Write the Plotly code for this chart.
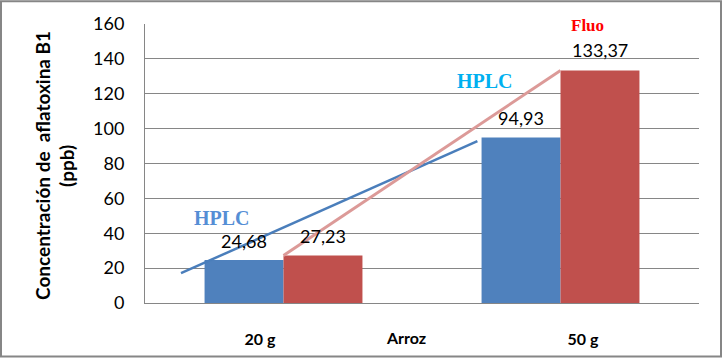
import plotly.graph_objects as go

categories = ["20 g", "50 g"]
hplc_values = [24.68, 94.93]
fluo_values = [27.23, 133.37]
hplc_labels = ["24,68", "94,93"]
fluo_labels = ["27,23", "133,37"]
y_ticks = [0, 20, 40, 60, 80, 100, 120, 140, 160]
# hand-drawn trend line endpoints (data units)
hplc_trend_x = [-0.37, 0.70]
hplc_trend_y = [17.1, 92.8]
fluo_trend_x = [0.0, 1.0]
fluo_trend_y = fluo_values

L, R, T, B = 145, 23, 24, 55
W, H = 722, 360
pw, ph = W - L - R, H - T - B

idx = list(range(len(categories)))
bw = 0.285
font = "Lato, 'Open Sans', sans-serif"

fig = go.Figure()
fig.add_trace(go.Bar(x=idx, y=hplc_values, width=bw, offset=-bw,
                     marker=dict(color="#4f81bd", line=dict(width=0)), name="HPLC"))
fig.add_trace(go.Bar(x=idx, y=fluo_values, width=bw, offset=0,
                     marker=dict(color="#c0504d", line=dict(width=0)), name="Fluo"))
fig.add_trace(go.Scatter(x=hplc_trend_x, y=hplc_trend_y, mode="lines",
                         line=dict(color="#4a7ebb", width=2.5), hoverinfo="skip"))
fig.add_trace(go.Scatter(x=fluo_trend_x, y=fluo_trend_y, mode="lines",
                         line=dict(color="#dc9a98", width=3), hoverinfo="skip"))

ann = []
for i in idx:
    ann.append(dict(x=i - bw / 2, y=hplc_values[i], text=hplc_labels[i], showarrow=False,
                    yanchor="middle", yshift=19, font=dict(family=font, size=18, color="#000")))
    ann.append(dict(x=i + bw / 2, y=fluo_values[i], text=fluo_labels[i], showarrow=False,
                    yanchor="middle", yshift=20, font=dict(family=font, size=18, color="#000")))

serif = "'Liberation Serif', 'Times New Roman', serif"
ann.append(dict(x=-0.222, y=48.6, text="<b>HPLC</b>", showarrow=False,
                font=dict(family=serif, size=20, color="#558ed5")))
ann.append(dict(x=0.727, y=127.5, text="<b>HPLC</b>", showarrow=False,
                font=dict(family=serif, size=20, color="#00b0f0")))
ann.append(dict(x=1.099, y=158.9, text="<b>Fluo</b>", showarrow=False,
                font=dict(family=serif, size=17, color="#ff0000")))

ann.append(dict(x=(406 - L) / pw, xref="paper", y=(305 - 340) / ph, yref="paper",
                text="<b>Arroz</b>", showarrow=False, yanchor="middle",
                font=dict(family=font, size=16, color="#000")))
ann.append(dict(x=(43 - L) / pw, xref="paper", y=(305 - 167) / ph, yref="paper",
                text="<b>Concentración de  aflatoxina B1</b>", showarrow=False, textangle=-90,
                xanchor="center", yanchor="middle", font=dict(family=font, size=19, color="#000")))
ann.append(dict(x=(67 - L) / pw, xref="paper", y=(305 - 167) / ph, yref="paper",
                text="<b>(ppb)</b>", showarrow=False, textangle=-90,
                xanchor="center", yanchor="middle", font=dict(family=font, size=19, color="#000")))

tick_shift = [-0.085, 0.081]

fig.update_layout(
    width=W, height=H, margin=dict(l=L, r=R, t=T, b=B),
    paper_bgcolor="white", plot_bgcolor="white", showlegend=False,
    annotations=ann,
    xaxis=dict(range=[-0.5, 1.5], tickvals=[i + s for i, s in zip(idx, tick_shift)],
               ticktext=["<b>%s</b>" % c for c in categories], showgrid=False, zeroline=False,
               showline=True, linecolor="#868686", linewidth=1, ticks="",
               ticklabelstandoff=22, tickfont=dict(family=font, size=16, color="#000")),
    yaxis=dict(range=[0, 160], tickvals=y_ticks, showgrid=True, gridcolor="#868686", gridwidth=1,
               zeroline=False, showline=True, linecolor="#868686", linewidth=1, ticks="",
               ticklabelstandoff=16, tickfont=dict(family=font, size=18, color="#000")),
    shapes=[dict(type="rect", xref="paper", yref="paper",
                 x0=(1 - L) / pw, x1=(W - 1 - L) / pw, y0=(305 - (H - 1)) / ph, y1=(305 - 1) / ph,
                 line=dict(color="#868686", width=2), layer="above")],
)
fig.write_html("out.html", config={"displayModeBar": False},
               post_script="document.body.style.margin='0px';document.body.style.overflow='hidden';")
